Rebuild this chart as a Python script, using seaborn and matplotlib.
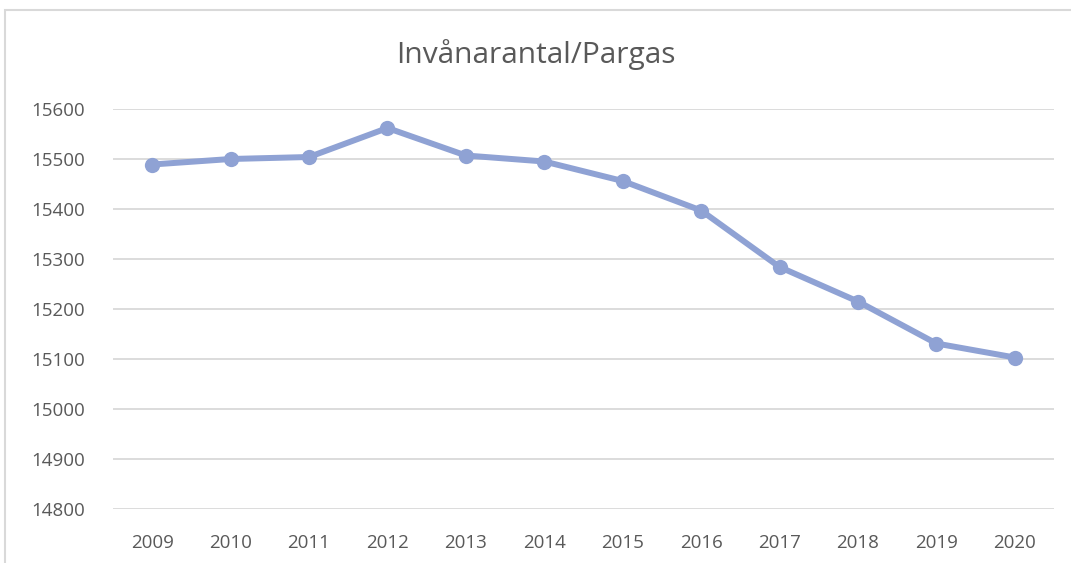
import numpy as np
import pandas as pd
import matplotlib
matplotlib.use("Agg")
import matplotlib.pyplot as plt
import seaborn as sns

years = [2009, 2010, 2011, 2012, 2013, 2014, 2015, 2016, 2017, 2018, 2019, 2020]
invanare = [15489, 15500, 15504, 15562, 15507, 15495, 15456, 15397, 15284, 15215, 15131, 15103]
yticks = [14800, 14900, 15000, 15100, 15200, 15300, 15400, 15500, 15600]
titel = "Invånarantal/Pargas"

sns.set_style("white")
plt.rcParams['font.family'] = ['Open Sans', 'DejaVu Sans']

df = pd.DataFrame({"ar": years, "antal": invanare})

fig = plt.figure(figsize=(10.71, 5.63), dpi=100)
ax = fig.add_axes([113/1071, 1 - 509/563, (1054 - 113)/1071, 400/563])

sns.lineplot(data=df, x="ar", y="antal", ax=ax, color="#8FA2D4", linewidth=4.3,
             marker="o", markersize=11, markeredgewidth=0, zorder=3)

ax.set_xlim(years[0] - 0.5, years[-1] + 0.5)
ax.set_ylim(yticks[0], yticks[-1])
ax.set_xticks(years)
ax.set_xticklabels([str(y) for y in years])
ax.set_yticks(yticks)
ax.grid(axis="y", color="#d9d9d9", linewidth=1.3)
ax.set_axisbelow(True)
for s in ax.spines.values():
    s.set_visible(False)
ax.tick_params(axis="both", length=0, labelsize=13.5, colors="#595959")
ax.tick_params(axis="x", pad=18)
ax.tick_params(axis="y", pad=20)
ax.set_xlabel("")
ax.set_ylabel("")

fig.text(0.5, 1 - 55/563, titel, ha="center", va="center", fontsize=21.5, color="#595959")

# ramen runt diagrammet
fig.patches.append(plt.Rectangle((5/1071, -0.1), 1.2, 1 - 10/563 + 0.1, transform=fig.transFigure,
                                 fill=False, edgecolor="#d9d9d9", linewidth=1.5))

fig.savefig("out.png", dpi=100)
